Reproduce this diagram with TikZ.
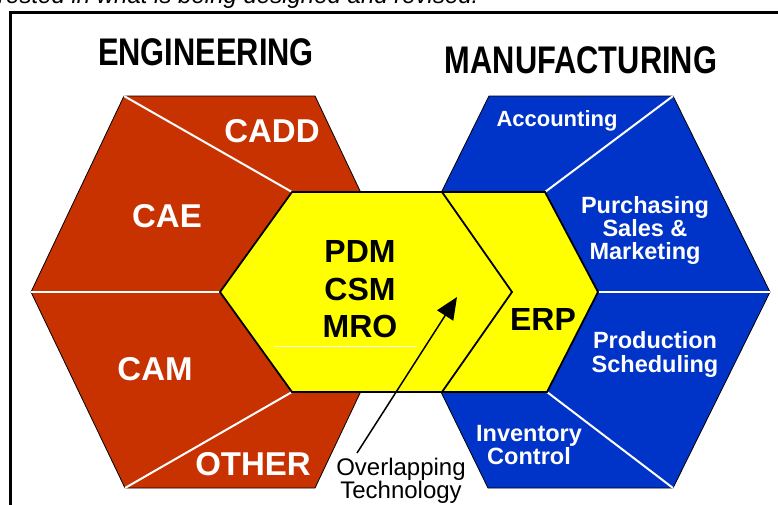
\documentclass[tikz,border=0pt]{standalone}
\usepackage{fontspec}
\setmainfont{Liberation Sans}
\newfontfamily\condfont[FakeStretch=0.8]{Liberation Sans}
\usetikzlibrary{arrows.meta}
\definecolor{engred}{HTML}{C83200}
\definecolor{mfgblue}{HTML}{0033C8}
\definecolor{coreyellow}{HTML}{FFFF00}
\tikzset{
  redhex/.style={fill=engred, draw=black, line width=0.8pt, line join=miter},
  bluehex/.style={fill=mfgblue, draw=black, line width=0.8pt, line join=miter},
  yellowhex/.style={fill=coreyellow, draw=black, line width=1.8pt, line join=miter},
  divider/.style={draw=white, line width=2pt},
  framebox/.style={draw=black, line width=3pt},
  heading/.style={inner sep=0pt, anchor=base, font=\condfont\bfseries\fontsize{38.5}{38.5}\selectfont},
  redlabel/.style={inner sep=0pt, anchor=base, text=white, font=\bfseries\fontsize{33}{33}\selectfont},
  corelabel/.style={inner sep=0pt, anchor=base, text=black, font=\bfseries\fontsize{32}{32}\selectfont},
  bluelabel/.style={inner sep=0pt, anchor=base, text=white, font=\bfseries\fontsize{23.5}{23.5}\selectfont},
  notelabel/.style={inner sep=0pt, anchor=base, text=black, font=\fontsize{24}{24}\selectfont},
  captiontext/.style={inner sep=0pt, anchor=base west, text=black, font=\itshape\fontsize{24}{24}\selectfont},
  pointer/.style={draw=black, line width=1.5pt, -{Triangle[length=22pt,width=19pt]}}
}
\begin{document}
\begin{tikzpicture}[x=1pt,y=-1pt]
\useasboundingbox (0,0) rectangle (778,504);
\clip (0,0) rectangle (778,504);
\fill[white] (0,0) rectangle (778,504);

% caption (cut off at the top, as in the source) and frame
\node[captiontext] (caption) at (-2,3) {rested in what is being designed and revised.};
\draw[framebox] (10.5,12) rectangle (800,530);

% coordinates
\coordinate (R1) at (124,96);  \coordinate (R2) at (315,96);
\coordinate (R3) at (408,292); \coordinate (R4) at (315,488);
\coordinate (R5) at (125,488); \coordinate (R6) at (31,292);
\coordinate (B1) at (489,96);  \coordinate (B2) at (673,96);
\coordinate (B3) at (770,292); \coordinate (B4) at (673,488);
\coordinate (B5) at (488,488); \coordinate (B6) at (392,292);
\coordinate (E1) at (442,192); \coordinate (E2) at (545,192);
\coordinate (E3) at (598,292); \coordinate (E4) at (547,392);
\coordinate (E5) at (442,392); \coordinate (E6) at (372,292);
\coordinate (P1) at (292,192); \coordinate (P2) at (442,192);
\coordinate (P3) at (512,292); \coordinate (P4) at (442,392);
\coordinate (P5) at (292,392); \coordinate (P6) at (220,292);

% outer hexagons
\draw[redhex] (R1) -- (R2) -- (R3) -- (R4) -- (R5) -- (R6) -- cycle;
\draw[bluehex] (B1) -- (B2) -- (B3) -- (B4) -- (B5) -- (B6) -- cycle;

% dividers
\draw[divider] (R1) -- (P1);
\draw[divider] (R6) -- (P6);
\draw[divider] (P5) -- (R5);
\draw[divider] (B2) -- (E2);
\draw[divider] (E3) -- (B3);
\draw[divider] (E4) -- (B4);

% core hexagons
\draw[yellowhex] (E1) -- (E2) -- (E3) -- (E4) -- (E5) -- (E6) -- cycle;
\draw[yellowhex] (P1) -- (P2) -- (P3) -- (P4) -- (P5) -- (P6) -- cycle;
\coordinate (W1) at (275,346); \coordinate (W2) at (417,346);
\draw[draw=white, line width=1pt] (W1) -- (W2);

% headings
\node[heading] (eng) at (206,65) {ENGINEERING};
\node[heading] (mfg) at (581,73) {MANUFACTURING};

% engineering labels
\node[redlabel] (cadd) at (272,142) {CADD};
\node[redlabel] (cae) at (167,227) {CAE};
\node[redlabel] (cam) at (155,380) {CAM};
\node[redlabel] (other) at (253,475) {OTHER};

% core labels
\node[corelabel] (pdm) at (360,262) {PDM};
\node[corelabel] (csm) at (360,300) {CSM};
\node[corelabel] (mro) at (360,337) {MRO};
\node[corelabel] (erp) at (543,330) {ERP};

% manufacturing labels
\node[bluelabel, font=\bfseries\fontsize{22}{22}\selectfont] (acct) at (557,126) {Accounting};
\node[bluelabel] (purch) at (645,213) {Purchasing};
\node[bluelabel] (sales) at (645,236) {Sales \&};
\node[bluelabel] (mkt) at (645,259) {Marketing};
\node[bluelabel] (prod) at (655,348) {Production};
\node[bluelabel] (sched) at (655,372) {Scheduling};
\node[bluelabel] (inv) at (529,441) {Inventory};
\node[bluelabel] (ctrl) at (529,464) {Control};

% overlapping note
\node[notelabel] (ovl) at (401,475) {Overlapping};
\node[notelabel] (tech) at (401,498) {Technology};
\coordinate (arrS) at (357,453);
\coordinate (arrE) at (457,297);
\draw[pointer] (arrS) -- (arrE);
\end{tikzpicture}
\end{document}
